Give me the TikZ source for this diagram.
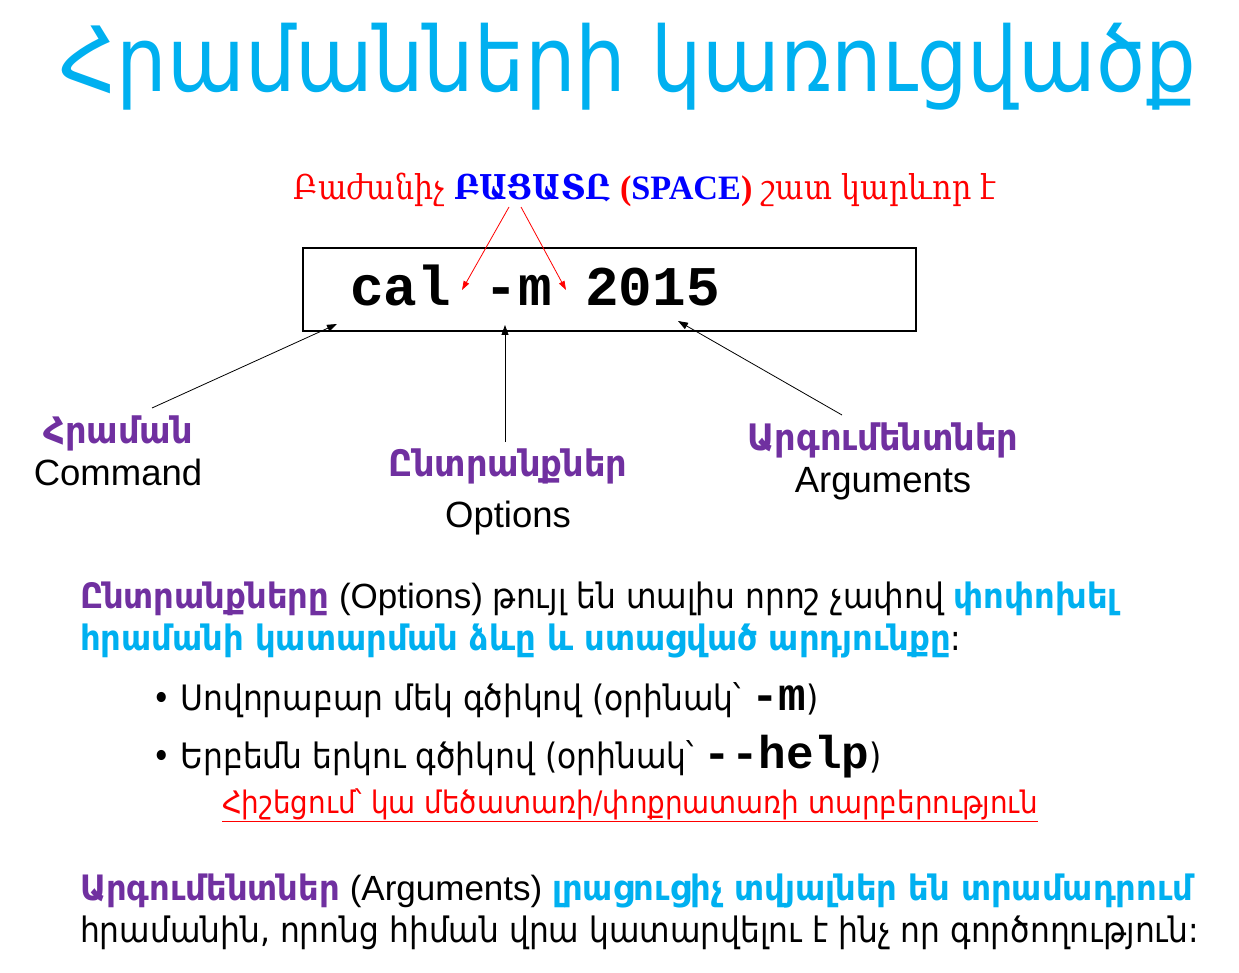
\documentclass[tikz,border=0pt]{standalone}
\usepackage{fontspec}
\setmainfont{DejaVu Sans}[FakeStretch=0.895, BoldFeatures={FakeStretch=0.92}]
\newfontfamily\armserif{DejaVu Serif}[FakeStretch=0.88]
\newfontfamily\titlefont{DejaVu Sans}[FakeStretch=0.887]
\newfontfamily\latsans{Liberation Sans}
\newfontfamily\latserif{Liberation Serif}
\setmonofont{Liberation Mono}
\usetikzlibrary{positioning, arrows.meta}
\definecolor{hcyan}{HTML}{00B0F0}
\definecolor{hpurple}{HTML}{7030A0}
\definecolor{hred}{HTML}{FF0000}
\definecolor{hblue}{HTML}{0000FF}

\begin{document}
\begin{tikzpicture}[x=1pt, y=-1pt,
    every node/.style={inner sep=0pt, outer sep=0pt},
    lbl/.style={font=\fontsize{36.5}{39}\selectfont\bfseries, text=hpurple, anchor=base},
    eng/.style={font=\fontsize{36.5}{38}\selectfont\latsans, anchor=base},
    body/.style={font=\fontsize{35}{38}\selectfont, anchor=base west},
    ptr/.style={-{Triangle[length=10pt,width=7pt]}, line width=0.8pt},
    redptr/.style={-{Triangle[length=9pt,width=6pt]}, hred, line width=0.8pt}]
    \useasboundingbox (0,0) rectangle (1239,973);

    % vernagir
    \node (title) [anchor=base, font=\fontsize{90}{90}\selectfont\titlefont, text=hcyan] at (628,92)
        {Հրամանների կառուցվածք};

    % bacatu
    \node (spacenote) [anchor=base, font=\fontsize{34.2}{36}\selectfont\armserif, text=hred] at (645,200)
        {Բաժանիչ \textcolor{hblue}{\bfseries ԲԱՑԱՏԸ} {\latserif\bfseries(\textcolor{hblue}{SPACE})} շատ կարևոր է};

    % hraman
    \node (cmdbox) [draw, line width=2.5pt, minimum width=613pt, minimum height=83pt, anchor=north west] at (303,248) {};
    \node (cmdtext) [anchor=base west, font=\fontsize{56}{56}\selectfont\ttfamily\bfseries] at (350,306) {cal -m 2015};

    % masery
    \node (cmdarm) [lbl] at (118,443) {Հրաման};
    \node (cmdeng) [eng] at (118,485) {Command};
    \node (optarm) [lbl] at (508,476) {Ընտրանքներ};
    \node (opteng) [eng] at (508,527) {Options};
    \node (argarm) [lbl] at (883,450) {Արգումենտներ};
    \node (argeng) [eng] at (883,492) {Arguments};

    % slaqner
    \coordinate (gapone) at (462,290);
    \coordinate (gaptwo) at (566,290);
    \coordinate (fromone) at (509,207);
    \coordinate (fromtwo) at (521,207);
    \draw[redptr] (fromone) -- (gapone);
    \draw[redptr] (fromtwo) -- (gaptwo);

    \coordinate (cmdfoot) at (152,408);
    \coordinate (cmdtip) at (337,324);
    \coordinate (optfoot) at (505,442);
    \coordinate (opttip) at (505,325);
    \coordinate (argfoot) at (842,415);
    \coordinate (argtip) at (678,321);
    \draw[ptr] (cmdfoot) -- (cmdtip);
    \draw[ptr] (optfoot) -- (opttip);
    \draw[ptr] (argfoot) -- (argtip);

    % bacatrutyun
    \node (paraonea) [body] at (80,608)
        {\textcolor{hpurple}{\bfseries Ընտրանքները} {\latsans(Options)} թույլ են տալիս որոշ չափով \textcolor{hcyan}{\bfseries փոփոխել}};
    \node (paraoneb) [body] at (80,650)
        {\textcolor{hcyan}{\bfseries հրամանի կատարման ձևը և ստացված արդյունքը}:};
    \node (itemone) [body] at (152,710) {• Սովորաբար մեկ գծիկով (օրինակ՝ {\fontsize{46}{46}\selectfont\ttfamily\bfseries -m})};
    \node (itemtwo) [body] at (152,768) {• Երբեմն երկու գծիկով (օրինակ՝ {\fontsize{46}{46}\selectfont\ttfamily\bfseries -{}-help})};
    \node (casenote) [body, font=\fontsize{31}{33}\selectfont, text=hred] at (222,813)
        {\underline{Հիշեցում՝ կա մեծատառի/փոքրատառի տարբերություն}};
    \node (paratwoa) [body] at (80,900)
        {\textcolor{hpurple}{\bfseries Արգումենտներ} {\latsans(Arguments)} \textcolor{hcyan}{\bfseries լրացուցիչ տվյալներ են տրամադրում}};
    \node (paratwob) [body] at (80,942) {հրամանին, որոնց հիման վրա կատարվելու է ինչ որ գործողություն:};
\end{tikzpicture}
\end{document}
